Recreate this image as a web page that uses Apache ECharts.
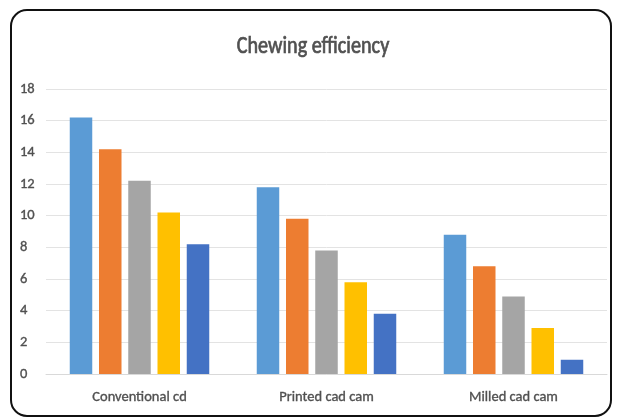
<!DOCTYPE html>
<html>
<head>
<meta charset="utf-8">
<script src="https://cdn.jsdelivr.net/npm/echarts@6/dist/echarts.min.js"></script>
<style>
  html, body { margin: 0; padding: 0; background: #fff; }
  #chart { width: 617px; height: 419px; }
</style>
</head>
<body>
<div id="chart"></div>
<script>
// Chewing efficiency by fabrication method, five measurement series each
const categories = ['Conventional cd', 'Printed cad cam', 'Milled cad cam'];
const series1 = [16.2, 11.8, 8.8];
const series2 = [14.2, 9.8, 6.8];
const series3 = [12.2, 7.8, 4.9];
const series4 = [10.2, 5.8, 2.9];
const series5 = [8.2, 3.8, 0.9];
const yTicks = { min: 0, max: 18, interval: 2 };
const titleText = 'Chewing efficiency';

const colors = ['#5B9BD5', '#ED7D31', '#A5A5A5', '#FFC000', '#4472C4'];
const fontFamily = 'Carlito';
const textColor = '#505050';

const chart = echarts.init(document.getElementById('chart'), null, { renderer: 'canvas' });

const makeBar = (name, data, i) => ({
  name,
  type: 'bar',
  data,
  barWidth: 22.5,
  barGap: '30%',
  itemStyle: { color: colors[i] }
});

// thin outline in the text colour gives the labels a fuller stroke
const labelStyle = {
  fontFamily,
  fontSize: 14.5,
  color: textColor,
  textBorderColor: textColor,
  textBorderWidth: 0.35
};

chart.setOption({
  animation: false,
  backgroundColor: '#ffffff',
  graphic: [
    {
      // chart title, drawn slightly condensed
      type: 'text',
      x: 313,
      y: 47,
      scaleX: 0.84,
      style: {
        text: titleText,
        x: 0,
        y: 0,
        align: 'center',
        verticalAlign: 'middle',
        font: '24px Carlito',
        fill: textColor,
        stroke: textColor,
        lineWidth: 0.7
      }
    },
    {
      // rounded frame around the whole chart
      type: 'rect',
      shape: { x: 11, y: 10, width: 600, height: 406, r: 16 },
      style: { fill: 'none', stroke: '#111', lineWidth: 2 },
      z: 100
    }
  ],
  grid: { left: 46, right: 10, top: 89, bottom: 45, containLabel: false },
  xAxis: {
    type: 'category',
    data: categories,
    axisLine: { lineStyle: { color: '#D9D9D9', width: 1 } },
    axisTick: { show: false },
    axisLabel: Object.assign({ margin: 16 }, labelStyle)
  },
  yAxis: {
    type: 'value',
    min: yTicks.min,
    max: yTicks.max,
    interval: yTicks.interval,
    axisLine: { show: false },
    axisTick: { show: false },
    axisLabel: Object.assign({ margin: 26, align: 'left' }, labelStyle),
    splitLine: { lineStyle: { color: '#E3E3E3', width: 1 } }
  },
  series: [
    makeBar('Series 1', series1, 0),
    makeBar('Series 2', series2, 1),
    makeBar('Series 3', series3, 2),
    makeBar('Series 4', series4, 3),
    makeBar('Series 5', series5, 4)
  ]
});
</script>
</body>
</html>
